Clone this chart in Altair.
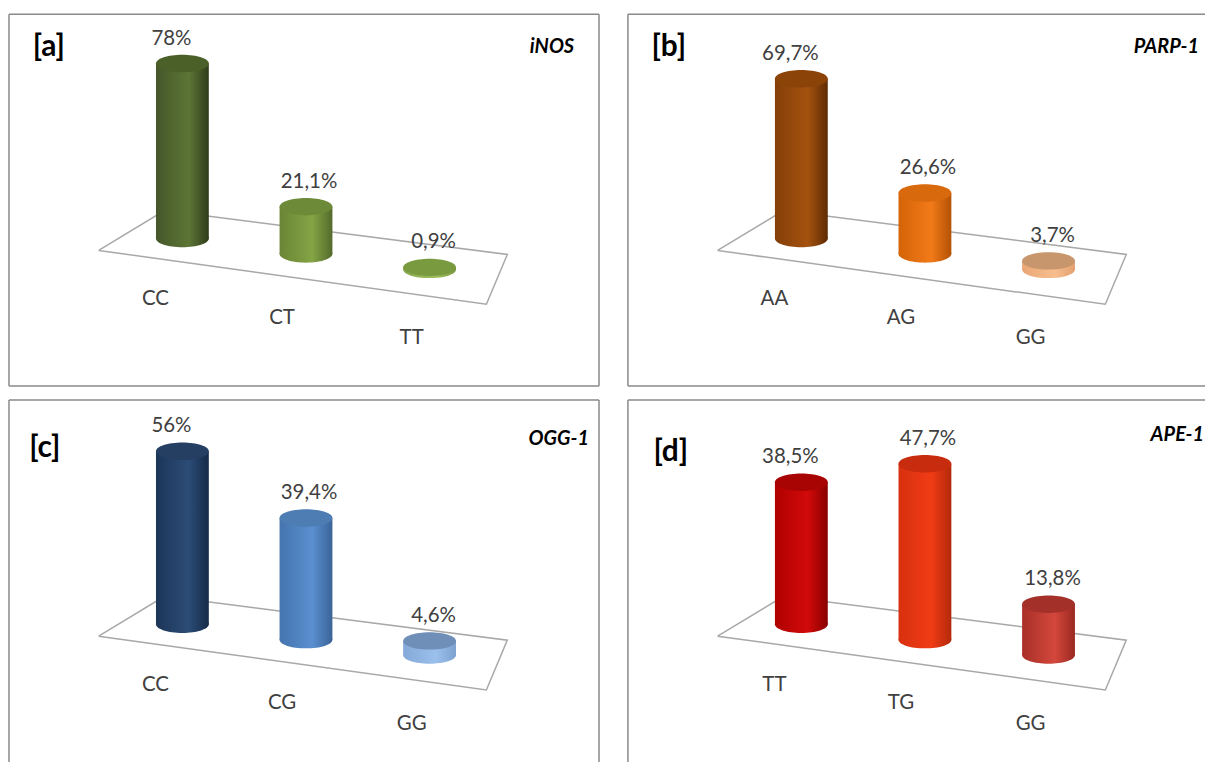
import altair as alt
import pandas as pd

# ---------------- data ----------------
inos_genotypes = ["CC", "CT", "TT"]
inos_pct = [78.0, 21.1, 0.9]

parp_genotypes = ["AA", "AG", "GG"]
parp_pct = [69.7, 26.6, 3.7]

ogg_genotypes = ["CC", "CG", "GG"]
ogg_pct = [56.0, 39.4, 4.6]

ape_genotypes = ["TT", "TG", "GG"]
ape_pct = [38.5, 47.7, 13.8]

# ---------------- layout ----------------
W, H = 592, 373            # full panel size (px)
X0, DX = 174, 124          # first column centre and column step (px)
BASE0, DBASE = 225, 15.5   # floor line of first column and depth step (px)
HALF_W = 26.5              # cylinder half width (px)
ELL = "M-1,0A1,0.33,0,1,1,1,0A1,0.33,0,1,1,-1,0Z"
FLOOR_PX = [(90, 237), (156, 197), (500, 241), (479, 291), (90, 237)]
VAL_DX = [-11, 3, 4]
VAL_DY = -25
CAT_DX = [-27, -24, -18]
CAT_DY = [61, 64, 69]
FONT = "Lato"
TXT = "#404040"
FRAME = "#8a8a8a"


def side(left, mid, right):
    return alt.Gradient(
        gradient="linear", x1=0, x2=1, y1=0, y2=0,
        stops=[alt.GradientStop(color=left, offset=0),
               alt.GradientStop(color=mid, offset=0.62),
               alt.GradientStop(color=right, offset=1)])


def pct_label(v):
    return f"{v:g}".replace(".", ",") + "%"


def frame_rule(edge, w, h):
    d = pd.DataFrame({"e": [edge]})
    r = alt.Chart(d).mark_rule(stroke=FRAME, strokeWidth=1.5)
    if edge == "l":
        return r.encode(x=alt.value(0), y=alt.value(0), y2=alt.value(h))
    if edge == "r":
        return r.encode(x=alt.value(w), y=alt.value(0), y2=alt.value(h))
    if edge == "t":
        return r.encode(x=alt.value(0), x2=alt.value(w), y=alt.value(0))
    return r.encode(x=alt.value(0), x2=alt.value(w), y=alt.value(h))


def panel(tag, gene, genotypes, values, ppu, sides, tops, tag_xy, gene_xy,
          w=W, h=H, edges="ltrb"):
    # scales keep the same pixel mapping as a full-size panel
    xs = alt.Scale(domain=[-X0 / DX, (w - X0) / DX], nice=False, zero=False)
    ys = alt.Scale(domain=[-(h - BASE0) / ppu, BASE0 / ppu], nice=False, zero=False)

    def X(f):
        return alt.X(f, type="quantitative", scale=xs, axis=None)

    def Y(f):
        return alt.Y(f, type="quantitative", scale=ys, axis=None)

    floor = pd.DataFrame({
        "u": [(px - X0) / DX for px, _ in FLOOR_PX],
        "v": [(BASE0 - py) / ppu for _, py in FLOOR_PX],
        "k": list(range(len(FLOOR_PX))),
    })
    layers = [frame_rule(e, w, h) for e in edges]
    layers.append(
        alt.Chart(floor).mark_line(stroke="#a8a8a8", strokeWidth=1.5)
        .encode(x=X("u"), y=Y("v"), order="k:Q")
    )

    for i, (g, v) in enumerate(zip(genotypes, values)):
        b = -DBASE * i / ppu
        df = pd.DataFrame({
            "u": [i], "ul": [i - HALF_W / DX], "ur": [i + HALF_W / DX],
            "b": [b], "t": [b + v], "g": [g], "lab": [pct_label(v)],
        })
        grad = side(*sides[i])
        size = (2 * HALF_W) ** 2
        layers += [
            alt.Chart(df).mark_point(shape=ELL, size=size, filled=True,
                                     fill=grad, opacity=1)
            .encode(x=X("u"), y=Y("b")),
            alt.Chart(df).mark_rect(fill=grad)
            .encode(x=X("ul"), x2="ur", y=Y("b"), y2="t"),
            alt.Chart(df).mark_point(shape=ELL, size=size, filled=True,
                                     fill=tops[i], opacity=1)
            .encode(x=X("u"), y=Y("t")),
            alt.Chart(df).mark_text(font=FONT, fontSize=20.5, color=TXT,
                                    dx=VAL_DX[i], dy=VAL_DY)
            .encode(x=X("u"), y=Y("t"), text="lab:N"),
            alt.Chart(df).mark_text(font=FONT, fontSize=20.5, color=TXT,
                                    dx=CAT_DX[i], dy=CAT_DY[i])
            .encode(x=X("u"), y=Y("b"), text="g:N"),
        ]

    layers += [
        alt.Chart(pd.DataFrame({"s": [tag]}))
        .mark_text(font=FONT, fontSize=30, fontWeight="bold", color="black")
        .encode(x=alt.value(tag_xy[0]), y=alt.value(tag_xy[1]), text="s:N"),
        alt.Chart(pd.DataFrame({"s": [gene]}))
        .mark_text(font=FONT, fontSize=20, fontWeight="bold", fontStyle="italic",
                   color="black", align="right")
        .encode(x=alt.value(gene_xy[0]), y=alt.value(gene_xy[1]), text="s:N"),
    ]
    return alt.layer(*layers).properties(width=w, height=h)


pa = panel("[a]", "iNOS", inos_genotypes, inos_pct, 2.25,
           [("#45562a", "#5d7636", "#2f3c1a"),
            ("#6a8535", "#84a445", "#546a2b"),
            ("#86a84a", "#9dbe5c", "#7a9a40")],
           ["#4b5f28", "#6c8a37", "#7a9a40"],
           (40, 33), (567, 33))

pb = panel("[b]", "PARP-1", parp_genotypes, parp_pct, 2.3,
           [("#843f08", "#a4520f", "#5e2b03"),
            ("#d46408", "#f27a18", "#b35205"),
            ("#eaa676", "#f8be8e", "#e3a070")],
           ["#8c4308", "#d8690c", "#c8966c"],
           (41, 33), (573, 33), w=579, edges="ltb")

pc = panel("[c]", "OGG-1", ogg_genotypes, ogg_pct, 3.1,
           [("#1d3658", "#2b4c77", "#152b48"),
            ("#4574ae", "#5a8fd0", "#3a6497"),
            ("#84a9d8", "#9cc0ec", "#7ea2d0")],
           ["#253f63", "#4e7db4", "#6f8fb9"],
           (36, 48), (582, 39), h=365, edges="ltr")

pd_ = panel("[d]", "APE-1", ape_genotypes, ape_pct, 3.7,
            [("#b00000", "#d20a0a", "#880000"),
             ("#d8300f", "#f03c15", "#b3290b"),
             ("#a83028", "#d4473c", "#9a2820")],
            ["#a80404", "#c82c0e", "#a4302a"],
            (43, 52), (578, 35), w=579, h=365, edges="lt")

chart = alt.vconcat(
    alt.hconcat(pa, pb, spacing=27),
    alt.hconcat(pc, pd_, spacing=27),
    spacing=12,
).properties(
    padding={"left": 8, "top": 12, "right": 0, "bottom": 0},
    background="white",
).configure_view(stroke=None)

chart.save("out.html", embed_options={"renderer": "svg", "actions": False})
